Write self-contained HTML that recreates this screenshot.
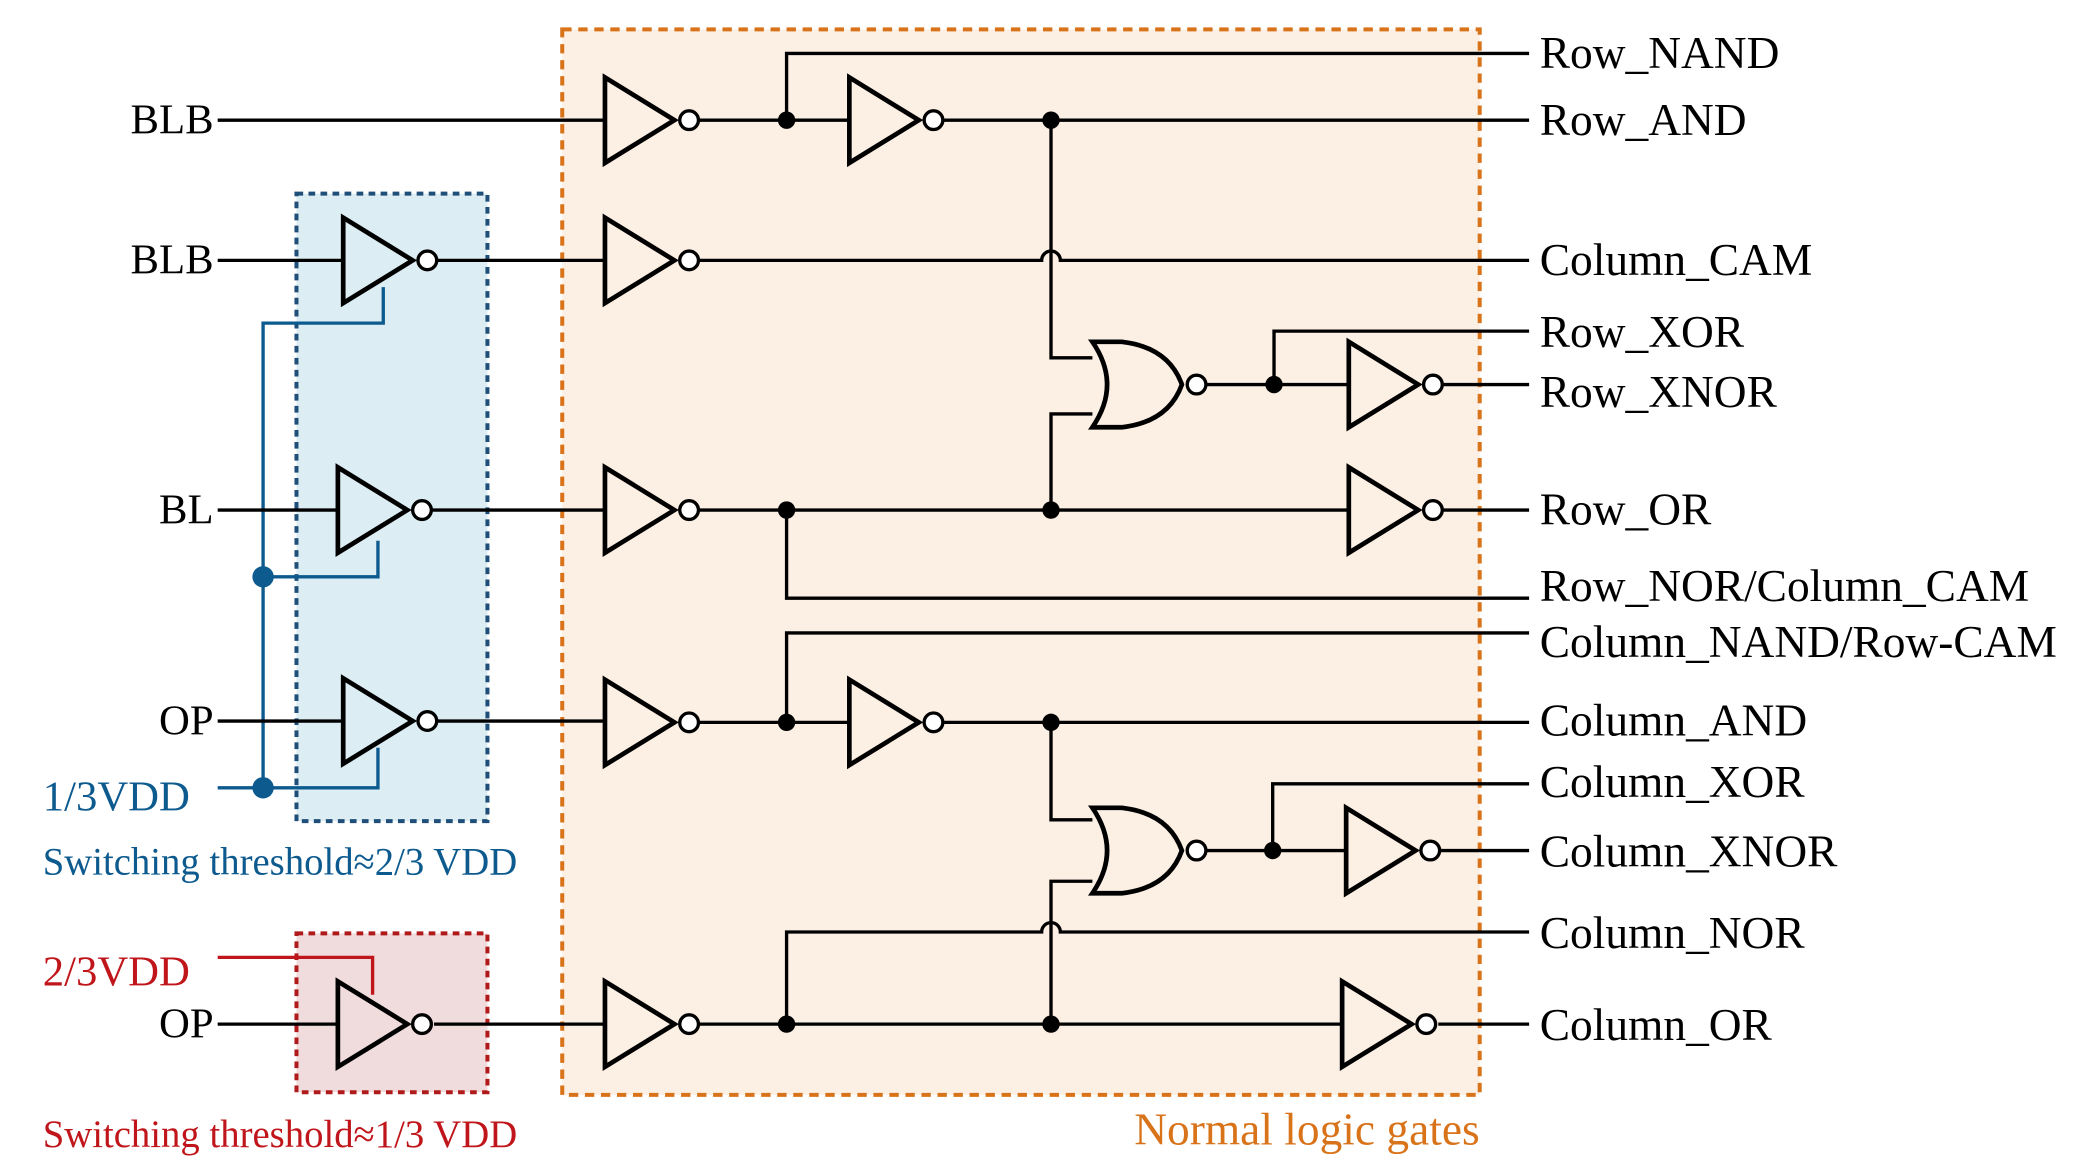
<!DOCTYPE html>
<html><head><meta charset="utf-8"><style>html,body{margin:0;padding:0;background:#fff}svg{display:block}</style></head><body>
<svg width="2094" height="1175" viewBox="0 0 1568 880" preserveAspectRatio="none" xmlns="http://www.w3.org/2000/svg">
<defs>
<g id="inv"><path d="M0,-32 L0,32 L52,0 Z" fill="none" stroke="#000" stroke-width="3.5" stroke-linejoin="miter"/><circle cx="63" cy="0" r="7" fill="#fff" stroke="#000" stroke-width="2.5"/></g>
<g id="nor"><path d="M0,-32 L22,-32 Q57,-28 67,0 Q57,28 22,32 L0,32 Q22,0 0,-32 Z" fill="none" stroke="#000" stroke-width="3.5"/><circle cx="78" cy="0" r="7" fill="#fff" stroke="#000" stroke-width="2.5"/></g>
</defs>
<rect x="421" y="22" width="687" height="798" fill="#fcefe4" stroke="#d9731a" stroke-width="3" stroke-dasharray="7,5"/>
<rect x="222" y="145" width="143" height="470" fill="#dcedf3" stroke="#1f4e79" stroke-width="3" stroke-dasharray="5,4"/>
<rect x="222" y="699" width="143" height="119" fill="#f0dcdc" stroke="#b01a1a" stroke-width="3" stroke-dasharray="5,4"/>
<g stroke="#0d5a8f" stroke-width="2.5" fill="none">
<path d="M287,215 V242 H197 V590"/><path d="M283,405 V432 H197"/><path d="M283,560 V590 H163"/>
</g>
<g fill="#0d5a8f"><circle cx="197" cy="432" r="8"/><circle cx="197" cy="590" r="8"/></g>
<path d="M163,717 H279 V745" stroke="#c0161b" stroke-width="2.5" fill="none"/>
<g stroke="#000" stroke-width="2.5" fill="none">
<path d="M163,90 H453 M523,90 H636 M589,90 V40 H1145 M707,90 H1145"/>
<path d="M787,90 V268 H818 M818,310 H787 V382"/>
<path d="M903,288 H1010 M954,288 V248 H1145 M1081,288 H1145"/>
<path d="M163,195 H257 M327,195 H453 M523,195 H780 A7,7 0 0 1 794,195 H1145"/>
<path d="M163,382 H253 M324,382 H453 M523,382 H1010 M1081,382 H1145 M589,382 V448 H1145"/>
<path d="M163,540 H257 M327,540 H453 M523,541 H636 M589,541 V474 H1145 M707,541 H1145"/>
<path d="M787,541 V614 H818 M818,660 H787 V767"/>
<path d="M903,637 H1008 M953,637 V587 H1145 M1079,637 H1145"/>
<path d="M589,767 V698 H780 A7,7 0 0 1 794,698 H1145"/>
<path d="M163,767 H253 M325,767 H453 M523,767 H1005 M1077,767 H1145"/>
</g>
<use href="#inv" x="453" y="90"/><use href="#inv" x="636" y="90"/>
<use href="#inv" x="257" y="195"/><use href="#inv" x="453" y="195"/>
<use href="#nor" x="818" y="288"/><use href="#inv" x="1010" y="288"/>
<use href="#inv" x="253" y="382"/><use href="#inv" x="453" y="382"/><use href="#inv" x="1010" y="382"/>
<use href="#inv" x="257" y="540"/><use href="#inv" x="453" y="541"/><use href="#inv" x="636" y="541"/>
<use href="#nor" x="818" y="637"/><use href="#inv" x="1008" y="637"/>
<use href="#inv" x="253" y="767"/><use href="#inv" x="453" y="767"/><use href="#inv" x="1005" y="767"/>
<g fill="#000"><circle cx="589" cy="90" r="6.5"/><circle cx="787" cy="90" r="6.5"/><circle cx="954" cy="288" r="6.5"/><circle cx="589" cy="382" r="6.5"/><circle cx="787" cy="382" r="6.5"/><circle cx="589" cy="541" r="6.5"/><circle cx="787" cy="541" r="6.5"/><circle cx="953" cy="637" r="6.5"/><circle cx="589" cy="767" r="6.5"/><circle cx="787" cy="767" r="6.5"/></g>
<g font-family="Liberation Serif, serif" font-size="32" fill="#000">
<text x="160" y="100" text-anchor="end">BLB</text><text x="160" y="205" text-anchor="end">BLB</text>
<text x="160" y="392" text-anchor="end">BL</text><text x="160" y="550" text-anchor="end">OP</text><text x="160" y="777" text-anchor="end">OP</text>
</g>
<g font-family="Liberation Serif, serif" font-size="34" fill="#000">
<text x="1153" y="51">Row_NAND</text><text x="1153" y="101">Row_AND</text><text x="1153" y="206">Column_CAM</text>
<text x="1153" y="260">Row_XOR</text><text x="1153" y="305">Row_XNOR</text><text x="1153" y="393">Row_OR</text>
<text x="1153" y="450">Row_NOR/Column_CAM</text><text x="1153" y="492">Column_NAND/Row-CAM</text>
<text x="1153" y="551">Column_AND</text><text x="1153" y="597">Column_XOR</text><text x="1153" y="649">Column_XNOR</text>
<text x="1153" y="710">Column_NOR</text><text x="1153" y="779">Column_OR</text>
</g>
<text x="32" y="607" font-family="Liberation Serif, serif" font-size="32" fill="#0d5a8f">1/3VDD</text>
<text x="32" y="655" font-family="Liberation Serif, serif" font-size="29" fill="#0d5a8f">Switching threshold≈2/3 VDD</text>
<text x="32" y="738" font-family="Liberation Serif, serif" font-size="32" fill="#c0161b">2/3VDD</text>
<text x="32" y="859" font-family="Liberation Serif, serif" font-size="29" fill="#c0161b">Switching threshold≈1/3 VDD</text>
<text x="1108" y="857" text-anchor="end" font-family="Liberation Serif, serif" font-size="34" fill="#d9731a">Normal logic gates</text>
</svg>
</body></html>
